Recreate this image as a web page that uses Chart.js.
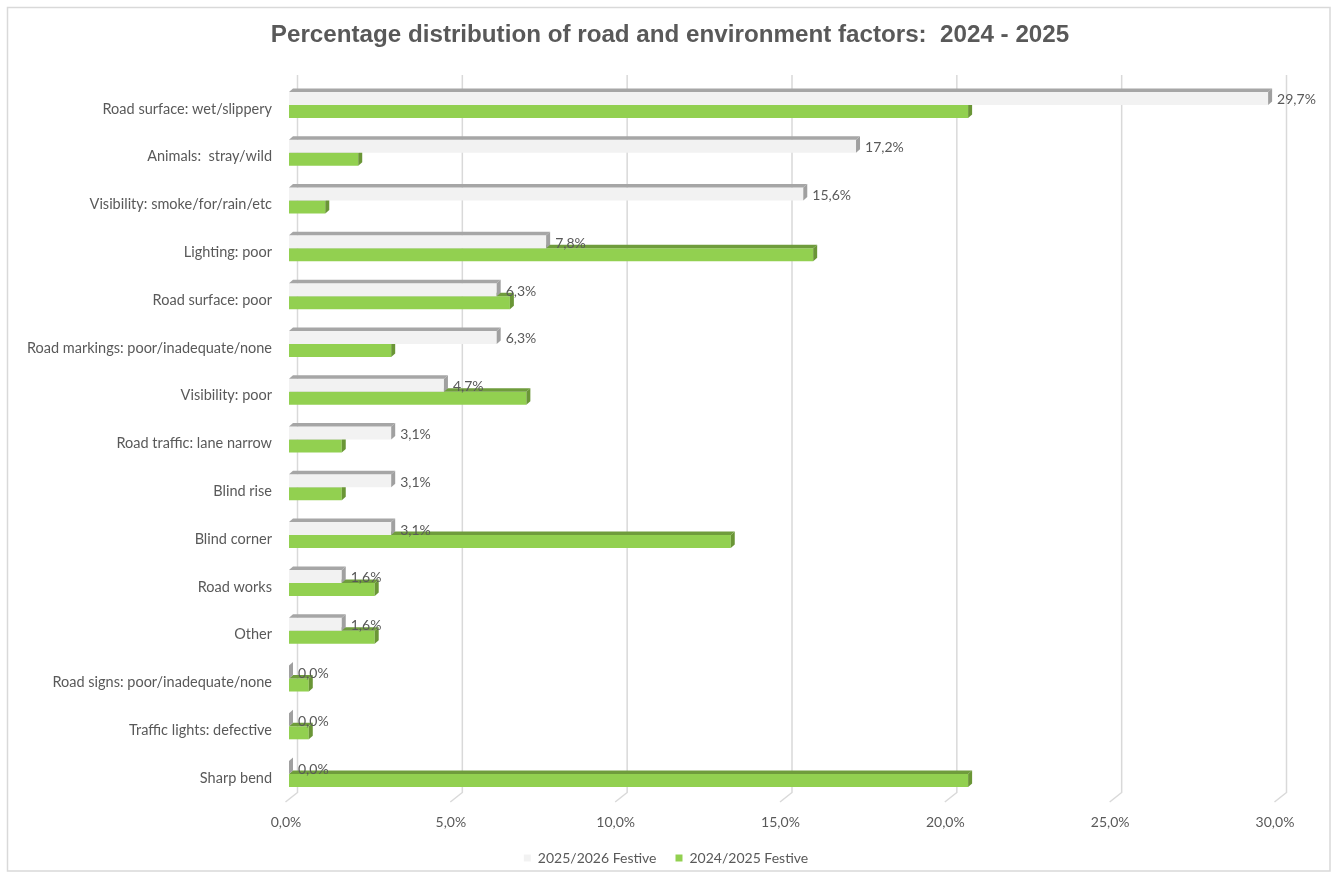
<!DOCTYPE html>
<html>
<head>
<meta charset="utf-8">
<script src="https://cdn.jsdelivr.net/npm/chart.js@4.4.1/dist/chart.umd.min.js"></script>
<style>
  html, body { margin: 0; padding: 0; background: #ffffff; }
  #wrap { width: 1336px; height: 876px; position: relative; }
</style>
</head>
<body>
<div id="wrap"><canvas id="c" width="1336" height="876"></canvas></div>
<script>
const categories = [
  'Road surface: wet/slippery',
  'Animals:  stray/wild',
  'Visibility: smoke/for/rain/etc',
  'Lighting: poor',
  'Road surface: poor',
  'Road markings: poor/inadequate/none',
  'Visibility: poor',
  'Road traffic: lane narrow',
  'Blind rise',
  'Blind corner',
  'Road works',
  'Other',
  'Road signs: poor/inadequate/none',
  'Traffic lights: defective',
  'Sharp bend'
];
const festive2526 = [29.7, 17.2, 15.6, 7.8, 6.3, 6.3, 4.7, 3.1, 3.1, 3.1, 1.6, 1.6, 0.0, 0.0, 0.0];
const festive2425 = [20.6, 2.1, 1.1, 15.9, 6.7, 3.1, 7.2, 1.6, 1.6, 13.4, 2.6, 2.6, 0.6, 0.6, 20.6];
const seriesNames = ['2025/2026 Festive', '2024/2025 Festive'];
const xTicks = [0, 5, 10, 15, 20, 25, 30];

const FONT = 'Lato, "Open Sans", sans-serif';
const TEXT = '#595959';
const fmtPct = v => Number(v).toFixed(1).replace('.', ',') + '%';

const faces = [
  { face: '#f2f2f2', top: '#a6a6a6', side: '#a0a0a0' },
  { face: '#92d050', top: '#6f9c3c', side: '#6a9636' }
];
const DX = 4, DY = 3.5;

const frame = {
  id: 'frame',
  afterLayout(chart) {
    if (chart.titleBlock) chart.titleBlock.left += 62;
    if (chart.legend) chart.legend.left += 54;
  },
  beforeDraw(chart) {
    const ctx = chart.ctx;
    ctx.save();
    ctx.fillStyle = '#ffffff';
    ctx.fillRect(0, 0, chart.width, chart.height);
    ctx.strokeStyle = '#d9d9d9';
    ctx.lineWidth = 1.5;
    ctx.strokeRect(7.5, 7.5, 1322.5, 863.5);
    ctx.restore();
  },
  beforeDatasetsDraw(chart) {
    const ctx = chart.ctx;
    const xs = chart.scales.x;
    const area = chart.chartArea;
    ctx.save();
    ctx.strokeStyle = '#d9d9d9';
    ctx.lineWidth = 1.5;
    xTicks.forEach(v => {
      const px = xs.getPixelForValue(v);
      const bx = px + 8.5;
      ctx.beginPath();
      ctx.moveTo(bx, area.top - 6);
      ctx.lineTo(bx, area.bottom - 5.5);
      ctx.lineTo(px - 3.5, area.bottom + 4);
      ctx.stroke();
    });
    ctx.restore();
  },
  afterDatasetDraw(chart, args) {
    const ctx = chart.ctx;
    const meta = args.meta;
    const col = faces[meta.index];
    ctx.save();
    meta.data.forEach(bar => {
      const p = bar.getProps(['x', 'y', 'base', 'height'], true);
      const top = p.y - p.height / 2;
      const bottom = p.y + p.height / 2;
      const x0 = Math.min(p.base, p.x), x1 = Math.max(p.base, p.x);
      ctx.fillStyle = col.top;
      ctx.beginPath();
      ctx.moveTo(x0, top);
      ctx.lineTo(x1, top);
      ctx.lineTo(x1 + DX, top - DY);
      ctx.lineTo(x0 + DX, top - DY);
      ctx.closePath();
      ctx.fill();
      ctx.fillStyle = col.side;
      ctx.beginPath();
      ctx.moveTo(x1, top);
      ctx.lineTo(x1 + DX, top - DY);
      ctx.lineTo(x1 + DX, bottom - DY);
      ctx.lineTo(x1, bottom);
      ctx.closePath();
      ctx.fill();
    });
    ctx.restore();
  },
  afterDatasetsDraw(chart) {
    const ctx = chart.ctx;
    const meta = chart.getDatasetMeta(0);
    ctx.save();
    ctx.fillStyle = TEXT;
    ctx.font = '14px ' + FONT;
    ctx.textAlign = 'left';
    ctx.textBaseline = 'middle';
    meta.data.forEach((bar, i) => {
      const p = bar.getProps(['x', 'y'], true);
      ctx.fillText(fmtPct(festive2526[i]), p.x + DX + 5, p.y + 1.5);
    });
    ctx.restore();
  }
};

new Chart(document.getElementById('c'), {
  type: 'bar',
  data: {
    labels: categories,
    datasets: [
      { label: seriesNames[0], data: festive2526, backgroundColor: faces[0].face, borderWidth: 0, clip: false },
      { label: seriesNames[1], data: festive2425, backgroundColor: faces[1].face, borderWidth: 0, clip: false }
    ]
  },
  options: {
    indexAxis: 'y',
    responsive: false,
    animation: false,
    devicePixelRatio: 1,
    categoryPercentage: 0.544,
    barPercentage: 1.0,
    layout: { padding: { left: 0, right: 58, top: 0, bottom: 1 } },
    plugins: {
      title: {
        display: true,
        text: 'Percentage distribution of road and environment factors:  2024 - 2025',
        color: TEXT,
        font: { family: '"Liberation Sans", Arial, sans-serif', size: 24.2, weight: 'bold', lineHeight: 1.2 },
        padding: { top: 21, bottom: 31 }
      },
      legend: {
        position: 'bottom',
        labels: {
          color: TEXT,
          font: { family: FONT, size: 14 },
          boxWidth: 7,
          boxHeight: 7,
          padding: 19
        }
      },
      tooltip: { enabled: false }
    },
    scales: {
      x: {
        min: 0, max: 30,
        afterBuildTicks(scale) { scale.ticks = xTicks.map(v => ({ value: v })); },
        afterFit(scale) { scale.height = 34; },
        grid: { display: false, drawTicks: false },
        border: { display: false },
        ticks: {
          color: TEXT,
          font: { family: FONT, size: 14 },
          padding: 16,
          labelOffset: -3,
          maxRotation: 0,
          callback: v => fmtPct(v)
        }
      },
      y: {
        afterFit(scale) { scale.width = 289; },
        grid: { display: false, drawTicks: false },
        border: { display: false },
        ticks: {
          color: TEXT,
          font: { family: FONT, size: 14.5 },
          padding: 17,
          labelOffset: 4,
          autoSkip: false
        }
      }
    }
  },
  plugins: [frame]
});
</script>
</body>
</html>
